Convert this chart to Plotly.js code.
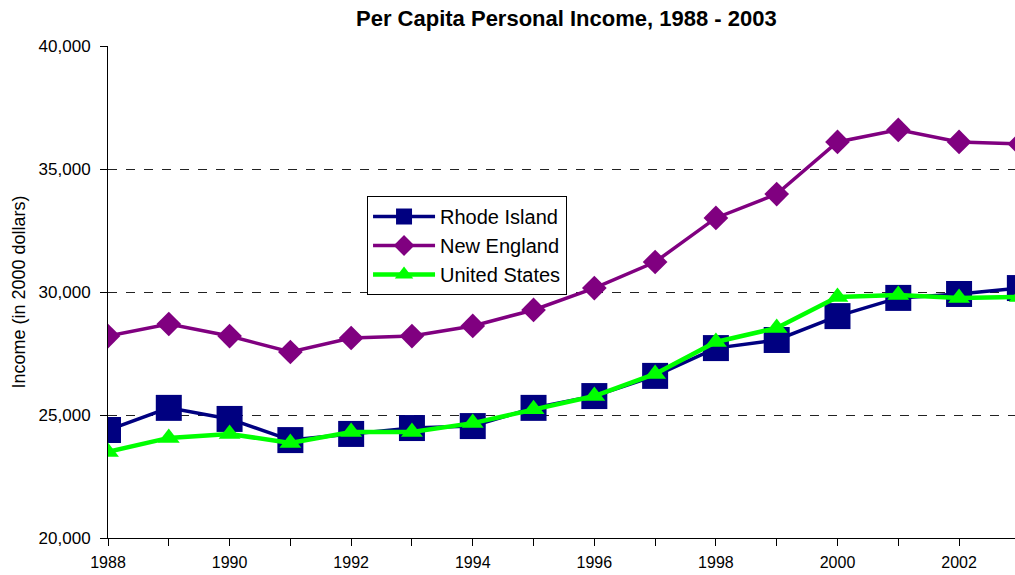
<!DOCTYPE html>
<html>
<head>
<meta charset="utf-8">
<script src="https://cdn.plot.ly/plotly-3.0.1.min.js"></script>
<style>html,body{margin:0;padding:0;background:#fff;}#chart{width:1015px;height:575px;}</style>
</head>
<body>
<div id="chart"></div>
<script>
const years = [1988,1989,1990,1991,1992,1993,1994,1995,1996,1997,1998,1999,2000,2001,2002,2003];
const rhodeIsland = [24390,25290,24840,23980,24230,24470,24550,25290,25770,26590,27720,28050,29020,29760,29920,30160];
const newEngland = [28210,28700,28210,27560,28130,28210,28620,29270,30160,31220,33010,33980,36100,36590,36100,36020];
const unitedStates = [23500,24070,24230,23860,24310,24310,24670,25230,25770,26670,27970,28540,29800,29880,29760,29800];
const yTicks = [20000,25000,30000,35000,40000];
const yTickText = ['20,000','25,000','30,000','35,000','40,000'];
const xTickText = years.map(y => (y % 2 === 0 ? String(y) : ''));

const traces = [
  {x: years, y: rhodeIsland, name: 'Rhode Island', mode: 'lines+markers', type: 'scatter',
   line: {color: '#000080', width: 3.5}, marker: {symbol: 'square', size: 26, color: '#000080'}},
  {x: years, y: newEngland, name: 'New England', mode: 'lines+markers', type: 'scatter',
   line: {color: '#800080', width: 3.5}, marker: {symbol: 'diamond', size: 19, color: '#800080'}},
  {x: years, y: unitedStates, name: 'United States', mode: 'lines+markers', type: 'scatter',
   line: {color: '#00FF00', width: 4.5}, marker: {symbol: 'triangle-up', size: 19, color: '#00FF00'}}
];

const layout = {
  width: 1015, height: 575,
  margin: {l: 108, r: 0, t: 46, b: 37, pad: 0},
  paper_bgcolor: '#fff', plot_bgcolor: '#fff',
  font: {family: 'Liberation Sans, Arial, sans-serif', color: '#000', size: 16},
  title: {text: 'Per Capita Personal Income, 1988 - 2003', x: 0.558, xanchor: 'center', y: 0.969, yanchor: 'middle',
          font: {family: 'Liberation Sans, Arial, sans-serif', size: 22, color: '#000', weight: 'bold'}},
  xaxis: {range: [1988, 2002.92], tickvals: years, ticktext: xTickText, ticks: 'outside', ticklen: 7, tickcolor: '#000',
          showline: true, linecolor: '#000', linewidth: 1, showgrid: false, zeroline: false,
          tickfont: {size: 16}, ticklabelstandoff: 3},
  yaxis: {range: [20000, 40000], tickvals: yTicks, ticktext: yTickText, ticks: 'outside', ticklen: 7, tickcolor: '#000',
          showline: true, linecolor: '#000', linewidth: 1, showgrid: true, gridcolor: '#222', griddash: 'dash', gridwidth: 1,
          zeroline: false, tickfont: {size: 17}, ticklabelstandoff: 6,
          title: {text: 'Income (in 2000 dollars)', font: {size: 18}, standoff: 8}},
  showlegend: true,
  legend: {x: 0.2856, y: 0.5945, xanchor: 'left', yanchor: 'middle', bordercolor: '#000', borderwidth: 1, bgcolor: '#fff',
           font: {size: 20}, tracegroupgap: 0, itemwidth: 62}
};

Plotly.newPlot('chart', traces, layout, {displayModeBar: false, staticPlot: true});
</script>
</body>
</html>
